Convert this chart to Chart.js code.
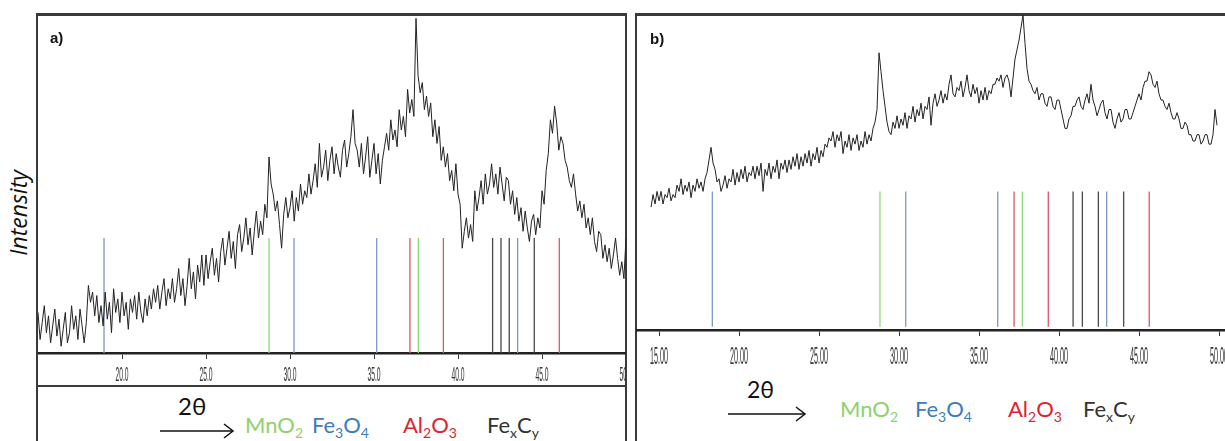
<!DOCTYPE html>
<html>
<head>
<meta charset="utf-8">
<script src="https://cdn.jsdelivr.net/npm/chart.js@4.4.0/dist/chart.umd.min.js"></script>
<style>
body{margin:0;width:1225px;height:441px;overflow:hidden;background:#fff;position:relative;font-family:Lato,"Open Sans",sans-serif}
.frame{position:absolute;border:2px solid #3a3a3a;border-top-width:3px;box-sizing:border-box}
.sep{position:absolute;height:2px;background:#3a3a3a}
.tag{position:absolute;font:bold 15px "Liberation Sans",Arial,sans-serif;color:#111}
.lbl{position:absolute;font-size:22px;line-height:1;white-space:nowrap}
.lbl sub{font-size:14px;vertical-align:-5px;line-height:0}
canvas{position:absolute}
svg{position:absolute;left:0;top:0}
</style>
</head>
<body>
<div class="frame" style="left:36px;top:13px;width:591px;height:440px"></div>
<div class="sep" style="left:36px;top:385px;width:591px"></div>
<div class="frame" style="left:635px;top:13px;width:600px;height:440px"></div>

<canvas id="chartA" width="588" height="371" style="left:38px;top:15px"></canvas>
<canvas id="chartB" width="589" height="360" style="left:636px;top:15px"></canvas>

<div class="tag" style="left:50px;top:29px">a)</div>
<div class="tag" style="left:650px;top:30px">b)</div>

<div class="lbl" style="left:18px;top:213px;font-size:23px;font-style:italic;font-family:'Open Sans',sans-serif;transform:translate(-50%,-50%) rotate(-90deg);color:#111">Intensity</div>

<div class="lbl" style="left:178px;top:394px;font-size:24px;color:#111">2θ</div>
<div class="lbl" style="left:245px;top:414px;color:#8fd16c">MnO<sub>2</sub></div>
<div class="lbl" style="left:312px;top:414px;color:#3d7cbf">Fe<sub>3</sub>O<sub>4</sub></div>
<div class="lbl" style="left:403px;top:414px;color:#e0232d">Al<sub>2</sub>O<sub>3</sub></div>
<div class="lbl" style="left:487px;top:414px;color:#333">Fe<sub>x</sub>C<sub>y</sub></div>

<div class="lbl" style="left:747px;top:378px;font-size:23px;color:#111">2θ</div>
<div class="lbl" style="left:840px;top:398px;color:#8fd16c">MnO<sub>2</sub></div>
<div class="lbl" style="left:915px;top:398px;color:#3d7cbf">Fe<sub>3</sub>O<sub>4</sub></div>
<div class="lbl" style="left:1008px;top:398px;color:#e0232d">Al<sub>2</sub>O<sub>3</sub></div>
<div class="lbl" style="left:1083px;top:398px;color:#333">Fe<sub>x</sub>C<sub>y</sub></div>

<svg width="1225" height="441">
  <line x1="160" y1="431" x2="233" y2="431" stroke="#111" stroke-width="1.5"/>
  <polyline points="224,424 233,431 224,438" fill="none" stroke="#111" stroke-width="1.5"/>
  <line x1="728" y1="414" x2="805" y2="414" stroke="#111" stroke-width="1.5"/>
  <polyline points="796,407 805,414 796,421" fill="none" stroke="#111" stroke-width="1.5"/>
</svg>

<script>
// scan grid (2theta) of the recorded patterns
const scanStep = 0.125
const scanStartA = 15.0
const scanStartB = 14.5

// intensities (arb. units, 0..100 of the plot height)
const intensityA = [
  12, 4, 9, 14, 6, 11, 3, 8,        // 15
  13, 5, 10, 2, 7, 12, 3, 6,        // 16
  14, 7, 11, 4, 13, 8, 3, 9,        // 17
  20, 15, 18, 11, 17, 9, 14, 8,     // 18
  18, 10, 15, 6, 19, 12, 16, 9,     // 19
  18, 11, 15, 7, 16, 12, 17, 10,    // 20
  18, 12, 9, 16, 11, 17, 13, 19,    // 21
  15, 20, 13, 18, 22, 14, 19, 16,   // 22
  22, 15, 19, 25, 17, 22, 14, 20,   // 23
  28, 19, 24, 16, 26, 21, 29, 20,   // 24
  29, 22, 27, 31, 23, 28, 21, 30,   // 25
  34, 26, 31, 36, 28, 33, 25, 35,   // 26
  38, 30, 34, 40, 32, 37, 29, 36,   // 27
  42, 34, 39, 35, 44, 40, 58, 50,   // 28
  47, 42, 45, 38, 31, 41, 46, 40,   // 29
  43, 48, 39, 46, 42, 50, 44, 48,   // 30
  46, 53, 47, 51, 56, 49, 62, 52,   // 31
  55, 60, 51, 57, 61, 53, 59, 55,   // 32
  52, 60, 63, 55, 59, 64, 72, 62,   // 33
  60, 55, 62, 53, 58, 64, 52, 57,   // 34
  62, 53, 59, 50, 57, 61, 65, 60,   // 35
  69, 63, 66, 61, 72, 66, 70, 64,   // 36
  78, 71, 75, 70, 99, 82, 77, 80,   // 37
  72, 76, 70, 74, 64, 69, 62, 67,   // 38
  57, 61, 55, 59, 51, 54, 48, 56,   // 39
  47, 44, 31, 36, 40, 34, 38, 33,   // 40
  48, 42, 46, 51, 44, 53, 47, 50,   // 41
  56, 49, 53, 47, 55, 50, 45, 52,   // 42
  51, 44, 48, 41, 46, 39, 43, 36,   // 43
  42, 37, 33, 39, 41, 35, 40, 37,   // 44
  48, 44, 54, 59, 69, 65, 73, 68,   // 45
  60, 64, 62, 57, 55, 51, 49, 53,   // 46
  47, 42, 45, 40, 44, 37, 40, 35,   // 47
  40, 33, 30, 36, 35, 28, 32, 27,   // 48
  31, 25, 29, 34, 28, 23, 27, 22,   // 49
  34                                // 50
]

const intensityB = [
  39, 43, 40, 44,                   // 14.5
  41, 44, 40, 43, 42, 45, 41, 43,   // 15
  42, 46, 44, 48, 43, 46, 44, 47,   // 16
  42, 46, 44, 48, 45, 47, 44, 48,   // 17
  50, 54, 58, 53, 51, 47, 48, 44,   // 18
  46, 49, 45, 48, 47, 51, 46, 50,   // 19
  47, 51, 48, 52, 47, 50, 49, 52,   // 20
  48, 52, 49, 53, 44, 51, 49, 53,   // 21
  48, 52, 50, 54, 48, 53, 51, 54,   // 22
  50, 54, 51, 55, 52, 56, 51, 55,   // 23
  52, 56, 53, 57, 52, 56, 54, 58,   // 24
  53, 57, 55, 59, 58, 61, 60, 63,   // 25
  58, 62, 60, 63, 56, 60, 58, 62,   // 26
  57, 61, 59, 62, 57, 60, 58, 63,   // 27
  59, 62, 60, 64, 66, 70, 88, 82,   // 28
  76, 71, 66, 63, 62, 66, 64, 68,   // 29
  64, 67, 65, 69, 64, 68, 67, 71,   // 30
  66, 70, 68, 72, 67, 71, 70, 74,   // 31
  65, 72, 75, 71, 73, 76, 72, 75,   // 32
  73, 78, 81, 75, 74, 77, 76, 79,   // 33
  74, 77, 81, 76, 74, 78, 75, 77,   // 34
  72, 76, 73, 77, 73, 76, 75, 78,   // 35
  78, 80, 79, 81, 77, 80, 81, 79,   // 36
  74, 80, 86, 89, 92, 96, 100, 91,  // 37
  83, 79, 78, 76, 75, 77, 73, 75,   // 38
  75, 72, 71, 74, 74, 71, 70, 73,   // 39
  73, 70, 67, 64, 64, 67, 68, 71,   // 40
  71, 73, 74, 71, 70, 73, 75, 72,   // 41
  78, 73, 71, 68, 70, 72, 73, 69,   // 42
  67, 70, 70, 66, 64, 67, 69, 66,   // 43
  67, 70, 70, 67, 67, 69, 71, 73,   // 44
  75, 73, 77, 79, 79, 82, 81, 78,   // 45
  77, 79, 75, 73, 73, 71, 70, 72,   // 46
  69, 67, 67, 69, 67, 64, 64, 66,   // 47
  65, 62, 62, 60, 60, 62, 62, 59,   // 48
  60, 62, 62, 59, 59, 62, 70, 65    // 49
]

// reference peak positions (2theta)
const mno2A = [28.75, 37.64]
const fe3o4A = [18.93, 30.24, 35.16, 43.55]
const al2o3A = [37.14, 39.13, 46.03]
const fexcyA = [42.06, 42.56, 43.05, 44.54]
const stickA = 34

const mno2B = [28.81, 37.71]
const fe3o4B = [18.33, 30.42, 36.17, 42.98]
const al2o3B = [37.19, 39.33, 45.64]
const fexcyB = [40.88, 41.46, 42.46, 44.04]
const stickB = 44

const ticksA = [20, 25, 30, 35, 40, 45, 50]
const ticksB = [15, 20, 25, 30, 35, 40, 45, 50]

function toPoints(start, vals){
    return vals.map(function(v, i){ return {x: start + i*scanStep, y: v} })
}

function sticks(pos, h, base){
    let pts = []
    for (p of pos){
        pts.push({x: p, y: base})
        pts.push({x: p, y: h})
        pts.push({x: p, y: null})
    }
    return pts
}

function stickSet(pos, h, base, color){
    return {
        data: sticks(pos, h, base),
        borderColor: color,
        borderWidth: 1.3,
        pointRadius: 0,
        spanGaps: false,
        order: 2
    }
}

// squeezed tick labels like the instrument software prints them
const squeezeTicks = {
    id: 'squeezeTicks',
    afterDraw(chart, args, opts){
        const sc = chart.scales.x
        const ctx = chart.ctx
        ctx.save()
        ctx.fillStyle = '#333'
        ctx.font = opts.size + 'px "Liberation Sans", Arial, sans-serif'
        ctx.textAlign = 'center'
        ctx.textBaseline = 'middle'
        for (t of sc.ticks){
            const px = sc.getPixelForValue(t.value)
            ctx.save()
            ctx.translate(px, sc.top + opts.offset)
            ctx.scale(opts.squeeze, 1)
            ctx.fillText(t.value.toFixed(opts.digits), 0, 0)
            ctx.restore()
        }
        ctx.restore()
    }
}

function makeChart(id, start, vals, stickSets, xmin, xmax, tickVals, axisH, tickOpts){
    return new Chart(document.getElementById(id), {
        type: 'line',
        data: {
            datasets: [{
                data: toPoints(start, vals),
                borderColor: '#222',
                borderWidth: 1,
                pointRadius: 0,
                tension: 0,
                order: 1
            }].concat(stickSets)
        },
        options: {
            responsive: false,
            animation: false,
            events: [],
            layout: {padding: 0, autoPadding: false},
            plugins: {
                legend: {display: false},
                tooltip: {enabled: false},
                squeezeTicks: tickOpts
            },
            scales: {
                x: {
                    type: 'linear',
                    min: xmin,
                    max: xmax,
                    afterBuildTicks: function(s){ s.ticks = tickVals.map(function(v){ return {value: v} }) },
                    afterFit: function(s){ s.height = axisH },
                    ticks: {display: false},
                    grid: {display: true, drawOnChartArea: false, drawTicks: true, tickLength: 6, color: '#333', lineWidth: 1},
                    border: {display: true, color: '#222', width: 2.5}
                },
                y: {
                    display: false,
                    min: 0,
                    max: 100
                }
            }
        },
        plugins: [squeezeTicks]
    })
}

makeChart('chartA', scanStartA, intensityA, [
    stickSet(fe3o4A, stickA, 0, '#7b98c2'),
    stickSet(mno2A, stickA, 0, '#8fd77a'),
    stickSet(al2o3A, stickA, 0, '#d9586a'),
    stickSet(fexcyA, stickA, 0, '#4a4a4a')
], 15, 50, ticksA, 33, {size: 21, offset: 22, digits: 1, squeeze: 0.32})

makeChart('chartB', scanStartB, intensityB, [
    stickSet(fe3o4B, stickB, 1, '#7b98c2'),
    stickSet(mno2B, stickB, 1, '#8fd77a'),
    stickSet(al2o3B, stickB, 1, '#d9586a'),
    stickSet(fexcyB, stickB, 1, '#4a4a4a')
], 13.56, 50.375, ticksB, 45, {size: 24, offset: 27, digits: 2, squeeze: 0.3})
</script>
</body>
</html>
